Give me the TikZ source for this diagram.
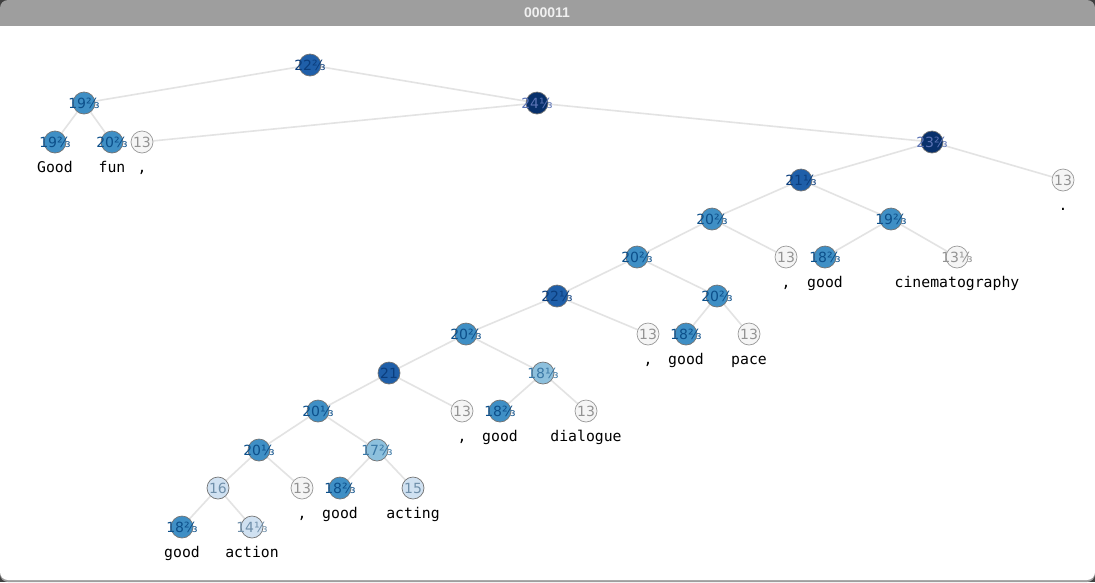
\documentclass[tikz,border=0pt]{standalone}
\usepackage{fontspec}
\setmainfont{DejaVu Sans}
\newfontfamily\wordfont{DejaVu Sans Mono}
\newfontfamily\titlefont{Liberation Sans}
\usetikzlibrary{positioning}

\definecolor{navy}{HTML}{08306B}
\definecolor{deep}{HTML}{1F5FA9}
\definecolor{mid}{HTML}{3F8FC5}
\definecolor{pale}{HTML}{8DC0DD}
\definecolor{faint}{HTML}{D0E1F1}
\definecolor{blank}{HTML}{F5F5F5}
\definecolor{linkgray}{HTML}{E3E3E3}
\definecolor{inknavy}{HTML}{5B73B5}
\definecolor{inkdeep}{HTML}{0B3D7C}
\definecolor{inkmid}{HTML}{0C4F8A}
\definecolor{inkpale}{HTML}{3A78A6}
\definecolor{inkfaint}{HTML}{6F8FAA}

\pgfdeclarelayer{frame}
\pgfdeclarelayer{links}
\pgfsetlayers{frame,links,main}

\newcommand{\val}[1]{\makebox[0pt]{#1}}

\begin{document}
\begin{tikzpicture} [
    x=1pt, y=-1pt,
    nd/.style={circle,minimum size=22pt,inner sep=0pt,draw=black!55,line width=0.7pt,
      font=\fontsize{14}{14}\selectfont},
    v24/.style={nd,fill=navy,text=inknavy},
    v22/.style={nd,fill=deep,text=inkdeep},
    v20/.style={nd,fill=mid,text=inkmid},
    v18/.style={nd,fill=pale,text=inkpale},
    v16/.style={nd,fill=faint,text=inkfaint},
    v13/.style={nd,fill=blank,text=gray!85,draw=gray!80},
    wd/.style={anchor=base,inner sep=0pt,font=\wordfont\fontsize{14.8}{15}\selectfont},
    link/.style={draw=linkgray,line width=1.6pt},
    ]
    \useasboundingbox (0,0) rectangle (1095,582);
    \begin{pgfonlayer}{frame}
      \fill[black!75] (0,0) rectangle (1095,582);
      \fill[black!38,rounded corners=8pt] (0,0) rectangle (1095,582);
      \fill[white,rounded corners=8pt] (0,26) -- (0,580) -- (1095,580) -- (1095,26);
    \end{pgfonlayer}
    \node[text=white!94!black,font=\titlefont\bfseries\fontsize{14}{14}\selectfont] (title) at (547,13) {000011};

    % Upper tree
    \node[v22] (a0) at (310,65) {\val{22⅔}};
    \node[v20] (a1) at (84,103) {\val{19⅔}};
    \node[v24] (r) at (537,103) {\val{24⅓}};
    \node[v20] (lGood) at (55,142) {\val{19⅔}};
    \node[v20] (lFun) at (112,142) {\val{20⅔}};
    \node[v13] (lC1) at (142,142) {\val{13}};
    \node[v24] (b0) at (932,142) {\val{23⅔}};
    \node[v13] (lDot) at (1063,180) {\val{13}};
    \node[v22] (b1) at (801,180) {\val{21⅓}};
    \node[v20] (b2) at (712,219) {\val{20⅔}};
    \node[v20] (b3) at (891,219) {\val{19⅔}};
    \node[v13] (lC2) at (786,257) {\val{13}};
    \node[v20] (lGood2) at (825,257) {\val{18⅔}};
    \node[v13] (lCine) at (957,257) {\val{13⅓}};
    % Middle tree
    \node[v20] (c0) at (637,257) {\val{20⅔}};
    \node[v22] (c1) at (557,296) {\val{22⅓}};
    \node[v20] (c2) at (717,296) {\val{20⅔}};
    \node[v13] (lC3) at (648,334) {\val{13}};
    \node[v20] (lGood3) at (686,334) {\val{18⅔}};
    \node[v13] (lPace) at (749,334) {\val{13}};
    \node[v20] (d0) at (466,334) {\val{20⅔}};
    \node[v22] (d1) at (389,373) {\val{21}};
    \node[v18] (d2) at (543,373) {\val{18⅓}};
    \node[v13] (lC4) at (462,411) {\val{13}};
    \node[v20] (lGood4) at (500,411) {\val{18⅔}};
    \node[v13] (lDial) at (586,411) {\val{13}};
    % Lower tree
    \node[v20] (e0) at (318,411) {\val{20⅓}};
    \node[v20] (e1) at (259,450) {\val{20⅓}};
    \node[v18] (e2) at (377,450) {\val{17⅔}};
    \node[v13] (lC5) at (302,488) {\val{13}};
    \node[v20] (lGood5) at (340,488) {\val{18⅔}};
    \node[v16] (lAct) at (413,488) {\val{15}};
    \node[v16] (f0) at (218,488) {\val{16}};
    \node[v20] (lGood6) at (182,527) {\val{18⅔}};
    \node[v16] (lAction) at (252,527) {\val{14⅓}};

    % Words
    \node[wd] (wGood) at ([yshift=-30pt]lGood.center) {Good};
    \node[wd] (wFun) at ([yshift=-30pt]lFun.center) {fun};
    \node[wd] (wC1) at ([yshift=-30pt]lC1.center) {,};
    \node[wd] (wDot) at ([yshift=-30pt]lDot.center) {.};
    \node[wd] (wC2) at ([yshift=-30pt]lC2.center) {,};
    \node[wd] (wGood2) at ([yshift=-30pt]lGood2.center) {good};
    \node[wd] (wCine) at ([yshift=-30pt]lCine.center) {cinematography};
    \node[wd] (wC3) at ([yshift=-30pt]lC3.center) {,};
    \node[wd] (wGood3) at ([yshift=-30pt]lGood3.center) {good};
    \node[wd] (wPace) at ([yshift=-30pt]lPace.center) {pace};
    \node[wd] (wC4) at ([yshift=-30pt]lC4.center) {,};
    \node[wd] (wGood4) at ([yshift=-30pt]lGood4.center) {good};
    \node[wd] (wDial) at ([yshift=-30pt]lDial.center) {dialogue};
    \node[wd] (wC5) at ([yshift=-30pt]lC5.center) {,};
    \node[wd] (wGood5) at ([yshift=-30pt]lGood5.center) {good};
    \node[wd] (wAct) at ([yshift=-30pt]lAct.center) {acting};
    \node[wd] (wGood6) at ([yshift=-30pt]lGood6.center) {good};
    \node[wd] (wAction) at ([yshift=-30pt]lAction.center) {action};

    \begin{pgfonlayer}{links}
      \path [link]
      (a0) edge (a1) (a0) edge (r) (a1) edge (lGood) (a1) edge (lFun)
      (lC1) edge (r) (r) edge (b0) (b0) edge (b1) (b0) edge (lDot)
      (b1) edge (b2) (b1) edge (b3) (b2) edge (c0) (b2) edge (lC2)
      (b3) edge (lGood2) (b3) edge (lCine)
      (c0) edge (c1) (c0) edge (c2) (c2) edge (lGood3) (c2) edge (lPace)
      (c1) edge (d0) (c1) edge (lC3) (d0) edge (d1) (d0) edge (d2)
      (d2) edge (lGood4) (d2) edge (lDial)
      (d1) edge (e0) (d1) edge (lC4) (e0) edge (e1) (e0) edge (e2)
      (e1) edge (f0) (e1) edge (lC5) (e2) edge (lGood5) (e2) edge (lAct)
      (f0) edge (lGood6) (f0) edge (lAction);
    \end{pgfonlayer}
  \end{tikzpicture}
\end{document}
